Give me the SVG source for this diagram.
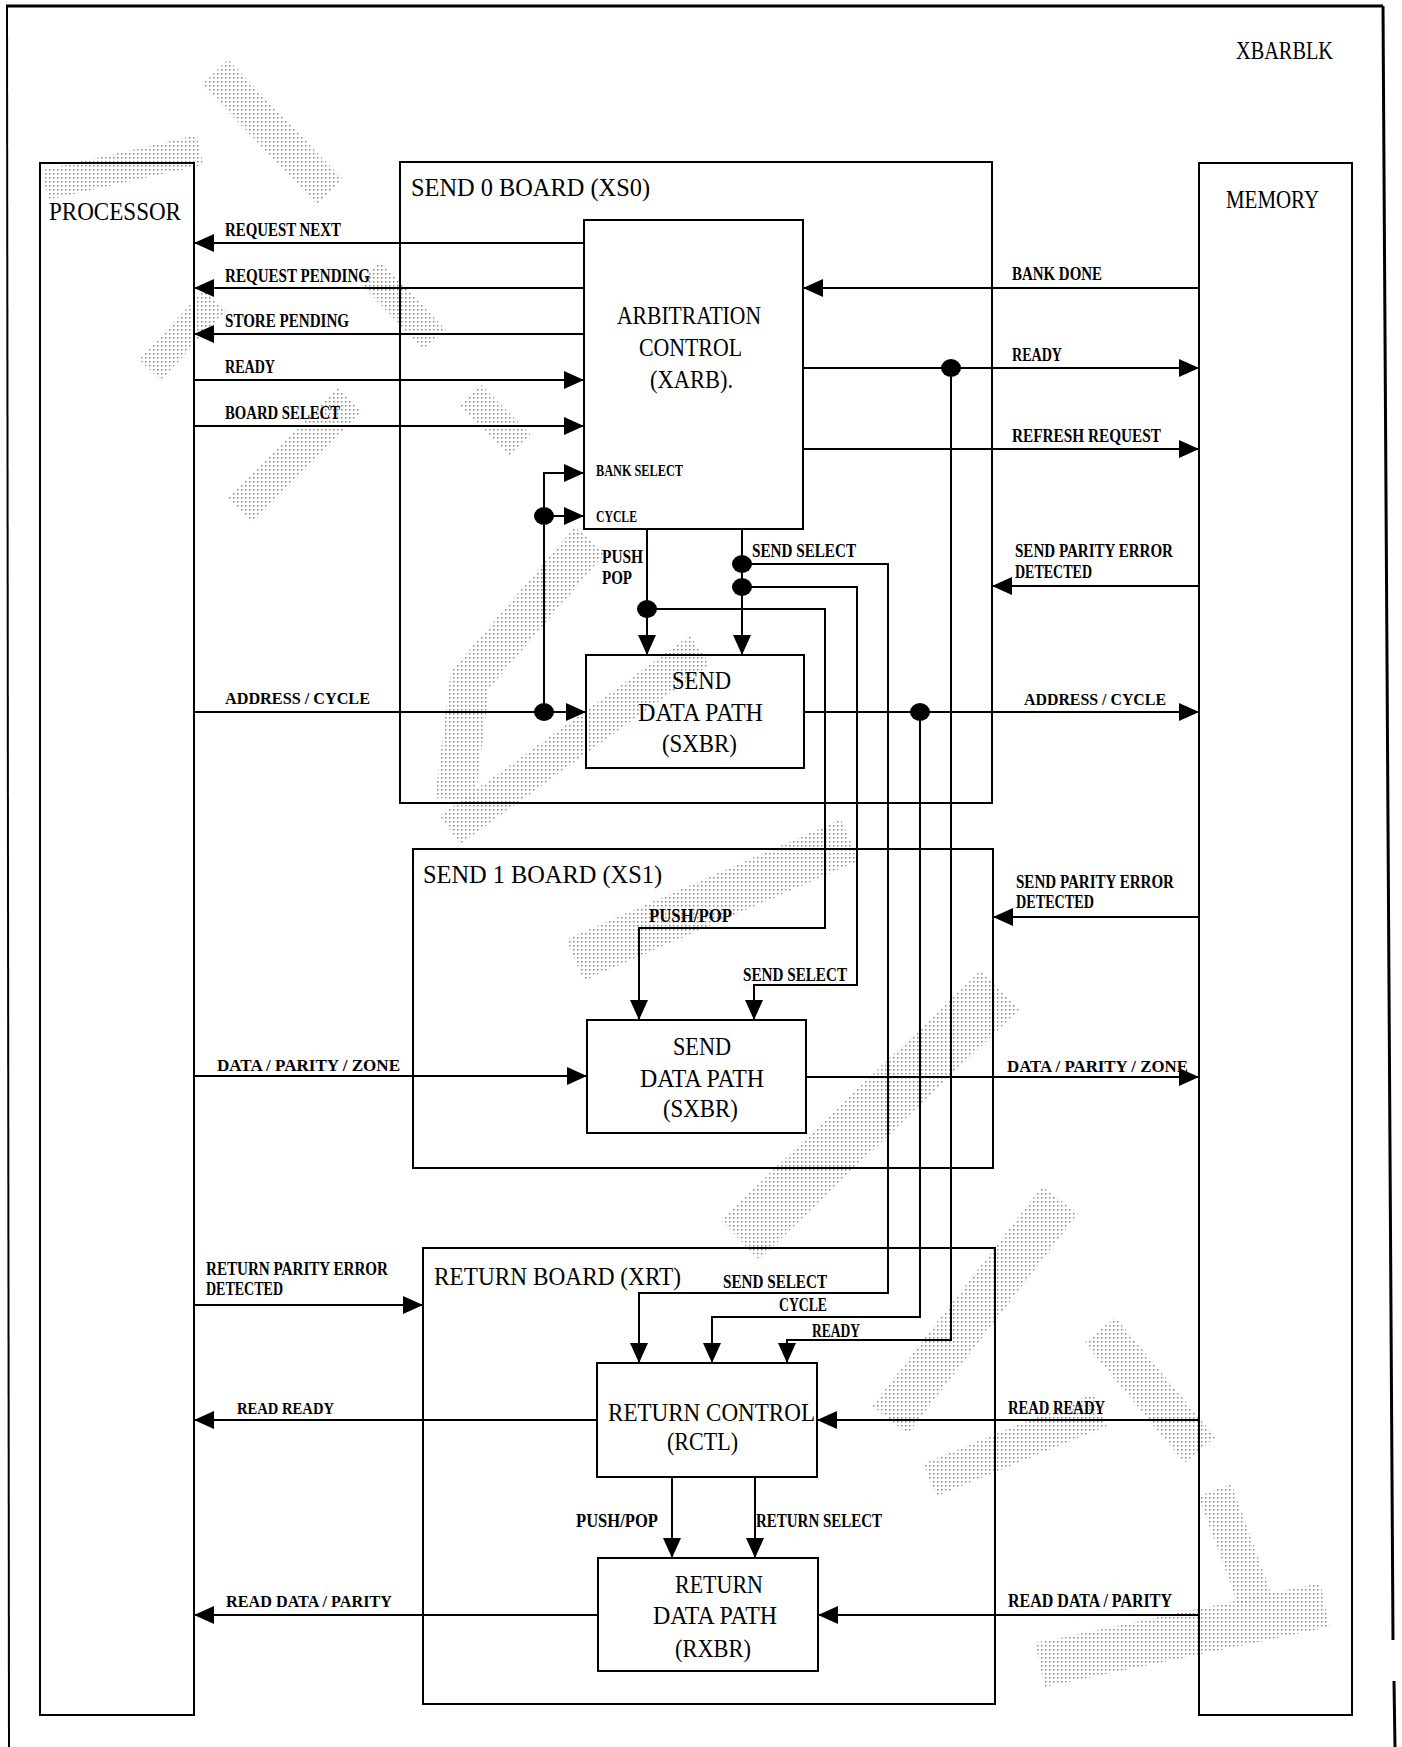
<svg xmlns="http://www.w3.org/2000/svg" width="1402" height="1747" viewBox="0 0 1402 1747">
<defs>
<style>
.box{fill:none;stroke:#000;stroke-width:2}
.brd{fill:none;stroke:#000;stroke-width:2}
.w{fill:none;stroke:#000;stroke-width:2}
.a{marker-end:url(#ah)}
.t{font-family:"Liberation Serif","DejaVu Serif",serif;font-size:26px;fill:#000}
.l{font-family:"Liberation Serif","DejaVu Serif",serif;font-weight:bold;font-size:19px;fill:#000}
.s{font-family:"Liberation Serif","DejaVu Serif",serif;font-weight:bold;font-size:17px;fill:#000}
.wm{fill:none;stroke:url(#dots);stroke-linecap:butt;stroke-linejoin:miter}
</style>
<pattern id="dots" width="4" height="4" patternUnits="userSpaceOnUse">
<rect x="1" y="1" width="1.5" height="1.5" fill="#888"/>
</pattern>
<marker id="ah" markerUnits="userSpaceOnUse" markerWidth="20" markerHeight="18" refX="20" refY="9" orient="auto" viewBox="0 0 20 18">
<path d="M0,0 L20,9 L0,18 Z" fill="#000"/>
</marker>
</defs>
<rect width="1402" height="1747" fill="#fff"/>

<g id="watermark" class="wm">
<polyline points="45,185 200,150" stroke-width="30"/>
<polyline points="215,72 330,192" stroke-width="36"/>
<polyline points="150,370 215,300" stroke-width="30"/>
<polyline points="370,272 435,340" stroke-width="30"/>
<polyline points="240,510 350,400" stroke-width="35"/>
<polyline points="470,395 520,445" stroke-width="30"/>
<polyline points="590,540 470,680 455,800" stroke-width="40"/>
<polyline points="700,650 450,830" stroke-width="35"/>
<polyline points="575,960 850,840" stroke-width="45"/>
<polyline points="740,1240 1000,990" stroke-width="55"/>
<polyline points="890,1420 1060,1200" stroke-width="45"/>
<polyline points="930,1480 1100,1410" stroke-width="35"/>
<polyline points="1100,1330 1200,1450" stroke-width="40"/>
<polyline points="1040,1665 1325,1605" stroke-width="45"/>
<polyline points="1215,1490 1255,1600" stroke-width="35"/>
</g>

<g id="frame" fill="none" stroke="#000">
<path d="M6,6 H1383" stroke-width="3"/>
<path d="M7,6 L9,1747" stroke-width="2"/>
<path d="M1383,6 L1393,1640 M1394,1681 L1395,1747" stroke-width="3"/>
</g>
<text class="t" x="1236" y="59" textLength="97" lengthAdjust="spacingAndGlyphs" font-size="24">XBARBLK</text>

<g id="send0-board">
<rect class="brd" x="400" y="162" width="592" height="641"/>
<text class="t" x="411" y="196" textLength="239" lengthAdjust="spacingAndGlyphs">SEND 0 BOARD (XS0)</text>
</g>
<g id="send1-board">
<rect class="brd" x="413" y="849" width="580" height="319"/>
<text class="t" x="423" y="883" textLength="239" lengthAdjust="spacingAndGlyphs">SEND 1 BOARD (XS1)</text>
</g>
<g id="return-board">
<rect class="brd" x="423" y="1248" width="572" height="456"/>
<text class="t" x="434" y="1285" textLength="247" lengthAdjust="spacingAndGlyphs">RETURN BOARD (XRT)</text>
</g>

<g id="processor">
<rect class="brd" x="40" y="163" width="154" height="1552"/>
<text class="t" x="49" y="220" textLength="132" lengthAdjust="spacingAndGlyphs">PROCESSOR</text>
</g>
<g id="memory">
<rect class="brd" x="1199" y="163" width="153" height="1552"/>
<text class="t" x="1226" y="208" textLength="93" lengthAdjust="spacingAndGlyphs">MEMORY</text>
</g>

<g id="connectors">
<path class="w a" d="M584,243 H194"/>
<path class="w a" d="M584,288 H194"/>
<path class="w a" d="M584,334 H194"/>
<path class="w a" d="M194,380 H584"/>
<path class="w a" d="M194,426 H584"/>
<path class="w a" d="M544,712 V473 H584"/>
<path class="w a" d="M544,516 H584"/>
<path class="w a" d="M194,712 H586"/>
<path class="w a" d="M1199,288 H803"/>
<path class="w a" d="M803,368 H1199"/>
<path class="w a" d="M803,449 H1199"/>
<path class="w a" d="M1199,586 H992"/>
<path class="w a" d="M804,712 H1199"/>
<path class="w a" d="M1199,917 H993"/>
<path class="w a" d="M806,1077 H1199"/>
<path class="w a" d="M194,1076 H587"/>
<path class="w a" d="M194,1305 H423"/>
<path class="w a" d="M597,1420 H194"/>
<path class="w a" d="M1199,1420 H817"/>
<path class="w a" d="M598,1615 H194"/>
<path class="w a" d="M1199,1615 H818"/>
<path class="w a" d="M647,529 V655"/>
<path class="w a" d="M647,609 H825 V928 H639 V1020"/>
<path class="w a" d="M742,529 V655"/>
<path class="w a" d="M742,564 H888 V1293 H639 V1363"/>
<path class="w a" d="M742,587 H857 V985 H754 V1020"/>
<path class="w a" d="M951,368 V1340 H787 V1363"/>
<path class="w a" d="M920,712 V1317 H712 V1363"/>
<path class="w a" d="M672,1477 V1558"/>
<path class="w a" d="M755,1477 V1558"/>
<g fill="#000">
<ellipse cx="544" cy="516" rx="10" ry="9"/>
<ellipse cx="544" cy="712" rx="10" ry="9"/>
<ellipse cx="951" cy="368" rx="10" ry="9"/>
<ellipse cx="920" cy="712" rx="10" ry="9"/>
<ellipse cx="647" cy="609" rx="10" ry="9"/>
<ellipse cx="742" cy="564" rx="10" ry="9"/>
<ellipse cx="742" cy="587" rx="10" ry="9"/>
</g>
</g>

<g id="arb">
<rect class="box" x="584" y="220" width="219" height="309"/>
<text class="t" x="617" y="324" textLength="144" lengthAdjust="spacingAndGlyphs">ARBITRATION</text>
<text class="t" x="639" y="356" textLength="103" lengthAdjust="spacingAndGlyphs">CONTROL</text>
<text class="t" x="650" y="388" textLength="83" lengthAdjust="spacingAndGlyphs">(XARB).</text>
</g>
<g id="sxbr0">
<rect class="box" x="586" y="655" width="218" height="113"/>
<text class="t" x="672" y="689" textLength="59" lengthAdjust="spacingAndGlyphs">SEND</text>
<text class="t" x="638" y="721" textLength="125" lengthAdjust="spacingAndGlyphs">DATA PATH</text>
<text class="t" x="662" y="752" textLength="75" lengthAdjust="spacingAndGlyphs">(SXBR)</text>
</g>
<g id="sxbr1">
<rect class="box" x="587" y="1020" width="219" height="113"/>
<text class="t" x="673" y="1055" textLength="58" lengthAdjust="spacingAndGlyphs">SEND</text>
<text class="t" x="640" y="1087" textLength="124" lengthAdjust="spacingAndGlyphs">DATA PATH</text>
<text class="t" x="663" y="1117" textLength="75" lengthAdjust="spacingAndGlyphs">(SXBR)</text>
</g>
<g id="rctl">
<rect class="box" x="597" y="1363" width="220" height="114"/>
<text class="t" x="608" y="1421" textLength="207" lengthAdjust="spacingAndGlyphs" font-size="25">RETURN CONTROL</text>
<text class="t" x="667" y="1450" textLength="71" lengthAdjust="spacingAndGlyphs" font-size="25">(RCTL)</text>
</g>
<g id="rxbr">
<rect class="box" x="598" y="1558" width="220" height="113"/>
<text class="t" x="675" y="1593" textLength="88" lengthAdjust="spacingAndGlyphs">RETURN</text>
<text class="t" x="653" y="1624" textLength="124" lengthAdjust="spacingAndGlyphs">DATA PATH</text>
<text class="t" x="675" y="1657" textLength="76" lengthAdjust="spacingAndGlyphs">(RXBR)</text>
</g>

<g id="labels">
<text class="l" x="225" y="236" textLength="116" lengthAdjust="spacingAndGlyphs">REQUEST NEXT</text>
<text class="l" x="225" y="282" textLength="145" lengthAdjust="spacingAndGlyphs">REQUEST PENDING</text>
<text class="l" x="225" y="327" textLength="124" lengthAdjust="spacingAndGlyphs">STORE PENDING</text>
<text class="l" x="225" y="373" textLength="50" lengthAdjust="spacingAndGlyphs">READY</text>
<text class="l" x="225" y="419" textLength="115" lengthAdjust="spacingAndGlyphs">BOARD SELECT</text>
<text class="s" x="596" y="476" textLength="87" lengthAdjust="spacingAndGlyphs">BANK SELECT</text>
<text class="s" x="596" y="522" textLength="41" lengthAdjust="spacingAndGlyphs">CYCLE</text>
<text class="l" x="602" y="563" textLength="41" lengthAdjust="spacingAndGlyphs">PUSH</text>
<text class="l" x="602" y="584" textLength="30" lengthAdjust="spacingAndGlyphs">POP</text>
<text class="l" x="752" y="557" textLength="104" lengthAdjust="spacingAndGlyphs">SEND SELECT</text>
<text class="s" x="225" y="704" textLength="145" lengthAdjust="spacingAndGlyphs">ADDRESS / CYCLE</text>
<text class="l" x="1012" y="280" textLength="90" lengthAdjust="spacingAndGlyphs">BANK DONE</text>
<text class="l" x="1012" y="361" textLength="50" lengthAdjust="spacingAndGlyphs">READY</text>
<text class="l" x="1012" y="442" textLength="149" lengthAdjust="spacingAndGlyphs">REFRESH REQUEST</text>
<text class="l" x="1015" y="557" textLength="158" lengthAdjust="spacingAndGlyphs">SEND PARITY ERROR</text>
<text class="l" x="1015" y="578" textLength="77" lengthAdjust="spacingAndGlyphs">DETECTED</text>
<text class="s" x="1024" y="705" textLength="142" lengthAdjust="spacingAndGlyphs">ADDRESS / CYCLE</text>
<text class="l" x="649" y="922" textLength="83" lengthAdjust="spacingAndGlyphs">PUSH/POP</text>
<text class="l" x="743" y="981" textLength="104" lengthAdjust="spacingAndGlyphs">SEND SELECT</text>
<text class="l" x="1016" y="888" textLength="158" lengthAdjust="spacingAndGlyphs">SEND PARITY ERROR</text>
<text class="l" x="1016" y="908" textLength="78" lengthAdjust="spacingAndGlyphs">DETECTED</text>
<text class="s" x="217" y="1071" textLength="183" lengthAdjust="spacingAndGlyphs">DATA / PARITY / ZONE</text>
<text class="s" x="1007" y="1072" textLength="181" lengthAdjust="spacingAndGlyphs">DATA / PARITY / ZONE</text>
<text class="l" x="206" y="1275" textLength="182" lengthAdjust="spacingAndGlyphs">RETURN PARITY ERROR</text>
<text class="l" x="206" y="1295" textLength="77" lengthAdjust="spacingAndGlyphs">DETECTED</text>
<text class="l" x="723" y="1288" textLength="104" lengthAdjust="spacingAndGlyphs">SEND SELECT</text>
<text class="l" x="779" y="1311" textLength="48" lengthAdjust="spacingAndGlyphs">CYCLE</text>
<text class="l" x="812" y="1337" textLength="48" lengthAdjust="spacingAndGlyphs">READY</text>
<text class="s" x="237" y="1414" textLength="97" lengthAdjust="spacingAndGlyphs">READ READY</text>
<text class="l" x="1008" y="1414" textLength="97" lengthAdjust="spacingAndGlyphs">READ READY</text>
<text class="l" x="576" y="1527" textLength="82" lengthAdjust="spacingAndGlyphs">PUSH/POP</text>
<text class="l" x="756" y="1527" textLength="126" lengthAdjust="spacingAndGlyphs">RETURN SELECT</text>
<text class="s" x="226" y="1607" textLength="166" lengthAdjust="spacingAndGlyphs">READ DATA / PARITY</text>
<text class="l" x="1008" y="1607" textLength="164" lengthAdjust="spacingAndGlyphs">READ DATA / PARITY</text>
</g>
</svg>
